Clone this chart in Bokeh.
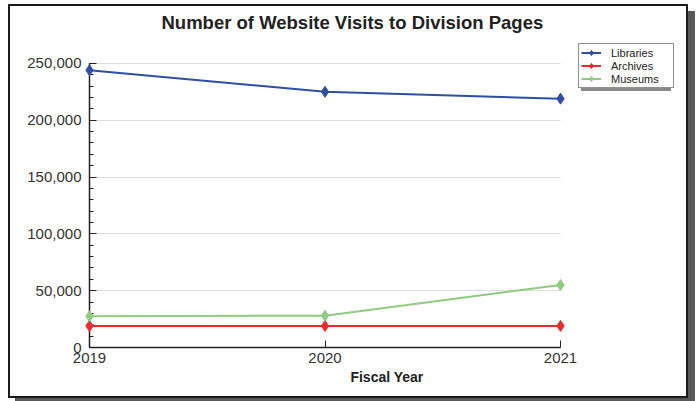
from bokeh.plotting import figure
from bokeh.models import (Range1d, FixedTicker, NumeralTickFormatter, Legend, LegendItem, Title)
from bokeh.embed import file_html
from bokeh.resources import INLINE

years = [2019, 2020, 2021]
libraries = [244000, 225000, 219000]
archives = [19000, 19000, 19000]
museums = [27500, 28000, 55000]
series_names = ["Libraries", "Archives", "Museums"]
series_colors = ["#2F4FA5", "#EE2A2A", "#8FCC80"]
y_ticks = [0, 50000, 100000, 150000, 200000, 250000]
y_minor = list(range(0, 250001, 10000))

FONT = "Liberation Sans"

# view extends past the data area to hold the legend (axes are bounded to the data extent)
X_VIEW_END = 2021.5265
Y_VIEW_END = 271050

p = figure(width=676, height=390, output_backend="svg", toolbar_location=None,
           x_range=Range1d(years[0], X_VIEW_END), y_range=Range1d(y_ticks[0], Y_VIEW_END),
           min_border_left=79, min_border_top=32, min_border_right=2, min_border_bottom=49)
p.styles = {"box-shadow": "0 0 0 2px #1a1a1a, 7px 7px 0 2px #595959",
            "margin-left": "10px", "margin-top": "6px"}

p.outline_line_color = None
p.xgrid.visible = False
p.ygrid.grid_line_color = "#DDDDDD"
p.ygrid.grid_line_width = 1
p.ygrid.ticker = FixedTicker(ticks=y_ticks)
try:
    p.ygrid.cross_bounds = (years[0], years[-1])
except Exception:
    pass

title = Title(text="Number of Website Visits to Division Pages", align="left",
              text_font=FONT, text_font_size="18.5px", text_font_style="bold",
              text_color="#222222", offset=72, standoff=10, vertical_align="top")
p.add_layout(title, "above")

renderers = []
for name, vals, col in zip(series_names, [libraries, archives, museums], series_colors):
    lr = p.line(years, vals, line_color=col, line_width=2)
    sr = p.scatter(years, vals, marker="diamond", size=11, fill_color=col, line_color=col, level="overlay")
    renderers.append((name, lr, sr))

p.xaxis.ticker = FixedTicker(ticks=years, minor_ticks=[])
p.yaxis.ticker = FixedTicker(ticks=y_ticks, minor_ticks=y_minor)
p.yaxis.formatter = NumeralTickFormatter(format="0,0")
p.xaxis.bounds = (years[0], years[-1])
p.yaxis.bounds = (y_ticks[0], y_ticks[-1])

for ax in (p.xaxis[0], p.yaxis[0]):
    ax.axis_line_color = "#222222"
    ax.axis_line_width = 1.5
    ax.major_tick_line_color = "#222222"
    ax.minor_tick_line_color = "#222222"
    ax.major_tick_in = 7
    ax.major_tick_out = 0
    ax.minor_tick_in = 4
    ax.minor_tick_out = 0
    ax.major_label_text_font = FONT
    ax.major_label_text_font_size = "15px"
    ax.major_label_text_color = "#333333"

p.yaxis.major_label_standoff = 8
p.xaxis.major_label_standoff = 5
p.xaxis.axis_label = "Fiscal Year"
p.xaxis.axis_label_text_font = FONT
p.xaxis.axis_label_text_font_size = "14px"
p.xaxis.axis_label_text_font_style = "bold"
p.xaxis.axis_label_text_color = "#222222"
p.xaxis.axis_label_standoff = 3

def make_legend(loc, shadow=False):
    if shadow:
        items = [LegendItem(label=" ", renderers=[lr, sr]) for n, lr, sr in renderers]
    else:
        items = [LegendItem(label=n, renderers=[lr, sr]) for n, lr, sr in renderers]
    lg = Legend(items=items, location=loc, orientation="vertical",
                padding=2, margin=0, spacing=0, glyph_width=20, glyph_height=13,
                label_height=13, label_width=60, label_standoff=10,
                label_text_font=FONT, label_text_font_size="11px",
                label_text_color="#222222")
    if shadow:
        lg.background_fill_color = "#888888"
        lg.background_fill_alpha = 1
        lg.border_line_color = None
        lg.label_text_alpha = 0
    else:
        lg.background_fill_color = "white"
        lg.background_fill_alpha = 1
        lg.border_line_color = "#222222"
        lg.border_line_width = 1
    return lg

p.add_layout(make_legend((492, 256), shadow=True), "center")
p.add_layout(make_legend((489, 259)), "center")

open("out.html", "w").write(file_html(p, INLINE))
